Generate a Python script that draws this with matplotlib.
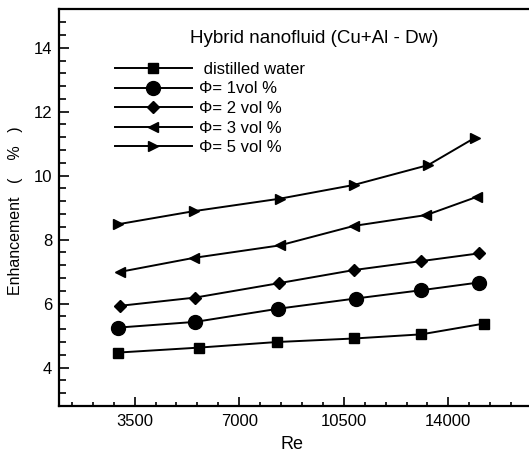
import matplotlib
matplotlib.use("Agg")
import matplotlib.pyplot as plt
from matplotlib.ticker import MultipleLocator, FixedLocator

plt.rcParams['font.family'] = ['Liberation Sans', 'DejaVu Sans']

# Data
re_water = [2935, 5645, 8264, 10839, 13097, 15185]
enh_water = [4.47, 4.625, 4.80, 4.91, 5.04, 5.375]

re_phi1 = [2935, 5532, 8298, 10895, 13097, 15018]
enh_phi1 = [5.25, 5.43, 5.84, 6.16, 6.42, 6.66]

re_phi2 = [2992, 5532, 8332, 10839, 13097, 15018]
enh_phi2 = [5.93, 6.19, 6.64, 7.05, 7.33, 7.57]

re_phi3 = [2992, 5476, 8355, 10839, 13266, 14962]
enh_phi3 = [6.99, 7.43, 7.82, 8.43, 8.77, 9.34]

re_phi5 = [2935, 5476, 8355, 10839, 13323, 14880]
enh_phi5 = [8.48, 8.89, 9.28, 9.71, 10.33, 11.18]

labels = [" distilled water", "\u03a6= 1vol %", "\u03a6= 2 vol %", "\u03a6= 3 vol %", "\u03a6= 5 vol %"]
title_text = "Hybrid nanofluid (Cu+Al - Dw)"
x_ticks = [3500, 7000, 10500, 14000]
y_ticks = [4, 6, 8, 10, 12, 14]

fig = plt.figure(figsize=(5.29, 4.57), dpi=100)
ax = fig.add_axes([0.112, 0.1116, 0.888, 0.868])

series = [
    (re_water, enh_water, 's', 7.5),
    (re_phi1, enh_phi1, 'o', 10),
    (re_phi2, enh_phi2, 'D', 6.5),
    (re_phi3, enh_phi3, '<', 7.5),
    (re_phi5, enh_phi5, '>', 7.5),
]
handles = []
for (x, y, m, ms), lab in zip(series, labels):
    h, = ax.plot(x, y, color='black', lw=1.4, marker=m, ms=ms,
                 markerfacecolor='black', markeredgecolor='black', label=lab)
    handles.append(h)

ax.set_xlim(975, 16700)
ax.set_ylim(2.8, 15.2)

ax.xaxis.set_major_locator(FixedLocator(x_ticks))
ax.xaxis.set_minor_locator(MultipleLocator(700))
ax.yaxis.set_major_locator(FixedLocator(y_ticks))
ax.yaxis.set_minor_locator(MultipleLocator(0.4))

ax.tick_params(axis='both', which='both', direction='in', top=False, right=False,
               labelsize=12, colors='black', width=1.2)
ax.tick_params(axis='y', which='major', length=7.5, pad=5)
ax.tick_params(axis='y', which='minor', length=5)
ax.tick_params(axis='x', which='major', length=6.5, pad=6)
ax.tick_params(axis='x', which='minor', length=3.2)

for s in ['left', 'bottom', 'top']:
    ax.spines[s].set_linewidth(1.6)
ax.spines['right'].set_visible(False)

ax.set_xlabel("Re", fontsize=13)
ax.xaxis.label.set_verticalalignment('center')
ax.xaxis.set_label_coords(0.495, -0.098)
ax.set_ylabel("Enhancement   (    %   )", fontsize=11.5)
ax.yaxis.label.set_verticalalignment('center')
ax.yaxis.set_label_coords(-0.094, 0.4915)

ax.text(0.2783, 0.9277, title_text, transform=ax.transAxes, fontsize=13.5,
        ha='left', va='center')

leg = ax.legend(handles=handles, loc='upper left', bbox_to_anchor=(0.1185, 0.8677),
                frameon=False, fontsize=12, handlelength=4.6, handletextpad=0.45,
                labelspacing=0.276, borderpad=0, borderaxespad=0, numpoints=1)

fig.savefig("out.png", dpi=100)
